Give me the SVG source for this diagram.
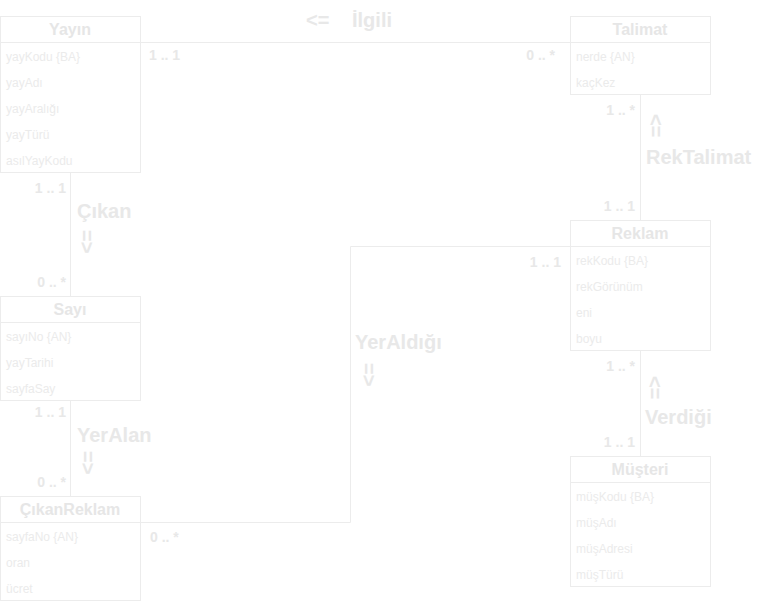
<svg xmlns="http://www.w3.org/2000/svg" width="784" height="603" viewBox="0 0 784 603">
<style>
.box{fill:#ffffff;stroke:#ececec;stroke-width:1}
.ln{fill:none;stroke:#ececec;stroke-width:1}
.hd{font-family:"Liberation Sans",Arial,sans-serif;font-weight:bold;font-size:16px;fill:#e6e6e6;text-anchor:middle}
.at{font-family:"Liberation Sans",Arial,sans-serif;font-size:12px;fill:#ebebeb}
.mu{font-family:"Liberation Sans",Arial,sans-serif;font-weight:bold;font-size:14px;fill:#e8e8e8}
.r{text-anchor:end}
.lb{font-family:"Liberation Sans",Arial,sans-serif;font-weight:bold;font-size:20px;fill:#e8e8e8}
</style>
<rect width="784" height="603" fill="#ffffff"/>
<g id="connectors">
<path class="ln" d="M140.5 42.5 H570.5"/>
<path class="ln" d="M70.5 172.5 V296.5"/>
<path class="ln" d="M70.5 400.5 V496.5"/>
<path class="ln" d="M640.5 94.5 V220.5"/>
<path class="ln" d="M640.5 350.5 V456.5"/>
<path class="ln" d="M140.5 522.5 H350.5 V246.5 H570.5"/>
<text class="lb" x="306" y="27">&lt;=</text>
<text class="lb" x="352" y="27">İlgili</text>
<text class="mu" x="149" y="60">1 .. 1</text>
<text class="mu r" x="555" y="60">0 .. *</text>
<text class="mu r" x="635" y="115">1 .. *</text>
<text class="lb" transform="translate(649,114) rotate(90)">&lt;=</text>
<text class="lb" x="646" y="164">RekTalimat</text>
<text class="mu r" x="635" y="211">1 .. 1</text>
<text class="mu r" x="66" y="193">1 .. 1</text>
<text class="lb" x="77" y="218">Çıkan</text>
<text class="lb" transform="translate(80,230) rotate(90)">=&gt;</text>
<text class="mu r" x="66" y="287">0 .. *</text>
<text class="mu r" x="66" y="417">1 .. 1</text>
<text class="lb" x="77" y="442">YerAlan</text>
<text class="lb" transform="translate(81,451) rotate(90)">=&gt;</text>
<text class="mu r" x="66" y="487">0 .. *</text>
<text class="mu" x="150" y="542">0 .. *</text>
<text class="lb" x="355" y="349">YerAldığı</text>
<text class="lb" transform="translate(362,363) rotate(90)">=&gt;</text>
<text class="mu r" x="561" y="267">1 .. 1</text>
<text class="mu r" x="635" y="371">1 .. *</text>
<text class="lb" transform="translate(648,376) rotate(90)">&lt;=</text>
<text class="lb" x="645" y="424">Verdiği</text>
<text class="mu r" x="635" y="447">1 .. 1</text>
</g>
<g id="Yayin">
<rect class="box" x="0.5" y="16.5" width="140" height="156"/>
<path class="ln" d="M0.5 42.5 H140.5"/>
<text class="hd" x="70" y="35">Yayın</text>
<text class="at" x="6" y="61">yayKodu {BA}</text>
<text class="at" x="6" y="87">yayAdı</text>
<text class="at" x="6" y="113">yayAralığı</text>
<text class="at" x="6" y="139">yayTürü</text>
<text class="at" x="6" y="165">asılYayKodu</text>
</g>
<g id="Talimat">
<rect class="box" x="570.5" y="16.5" width="140" height="78"/>
<path class="ln" d="M570.5 42.5 H710.5"/>
<text class="hd" x="640" y="35">Talimat</text>
<text class="at" x="576" y="61">nerde {AN}</text>
<text class="at" x="576" y="87">kaçKez</text>
</g>
<g id="Sayi">
<rect class="box" x="0.5" y="296.5" width="140" height="104"/>
<path class="ln" d="M0.5 322.5 H140.5"/>
<text class="hd" x="70" y="315">Sayı</text>
<text class="at" x="6" y="341">sayıNo {AN}</text>
<text class="at" x="6" y="367">yayTarihi</text>
<text class="at" x="6" y="393">sayfaSay</text>
</g>
<g id="CikanReklam">
<rect class="box" x="0.5" y="496.5" width="140" height="104"/>
<path class="ln" d="M0.5 522.5 H140.5"/>
<text class="hd" x="70" y="515">ÇıkanReklam</text>
<text class="at" x="6" y="541">sayfaNo {AN}</text>
<text class="at" x="6" y="567">oran</text>
<text class="at" x="6" y="593">ücret</text>
</g>
<g id="Reklam">
<rect class="box" x="570.5" y="220.5" width="140" height="130"/>
<path class="ln" d="M570.5 246.5 H710.5"/>
<text class="hd" x="640" y="239">Reklam</text>
<text class="at" x="576" y="265">rekKodu {BA}</text>
<text class="at" x="576" y="291">rekGörünüm</text>
<text class="at" x="576" y="317">eni</text>
<text class="at" x="576" y="343">boyu</text>
</g>
<g id="Musteri">
<rect class="box" x="570.5" y="456.5" width="140" height="130"/>
<path class="ln" d="M570.5 482.5 H710.5"/>
<text class="hd" x="640" y="475">Müşteri</text>
<text class="at" x="576" y="501">müşKodu {BA}</text>
<text class="at" x="576" y="527">müşAdı</text>
<text class="at" x="576" y="553">müşAdresi</text>
<text class="at" x="576" y="579">müşTürü</text>
</g>
</svg>
